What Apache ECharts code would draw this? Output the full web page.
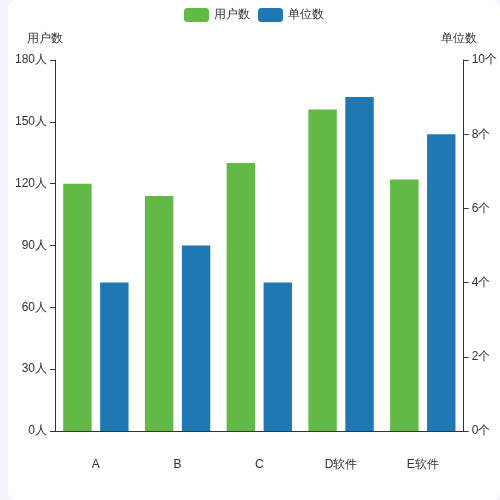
<!DOCTYPE html><html><head><meta charset="utf-8"><script src="https://cdn.jsdelivr.net/npm/echarts@6/dist/echarts.min.js"></script>
<style>html,body{margin:0;padding:0;background:#f3f4f9;}#c{position:absolute;left:8px;top:0;width:492px;height:500px;background:#fff;border-radius:8px;}</style></head><body><div id="c"></div>
<script>
var categories=['A','B','C','D软件','E软件'];
var users=[120,114,130,156,122];
var units=[4,5,4,9,8];
var chart=echarts.init(document.getElementById('c'));
var lbl={color:'#333',fontSize:12};
chart.setOption({
 legend:{top:3,itemWidth:25,itemHeight:14,textStyle:{color:'#333'},data:['用户数','单位数']},
 grid:{left:47,right:32,top:60,bottom:69},
 xAxis:{type:'category',data:categories,axisLine:{lineStyle:{color:'#333'}},axisTick:{lineStyle:{color:'#333'}},axisLabel:{color:'#333',margin:28}},
 yAxis:[{type:'value',name:'用户数',min:0,max:180,interval:30,nameTextStyle:{color:'#333',padding:[0,20,0,0]},axisLine:{show:true,lineStyle:{color:'#333'}},axisTick:{show:true},splitLine:{show:false},axisLabel:{color:'#333',formatter:'{value}人'}},
 {type:'value',name:'单位数',min:0,max:10,interval:2,nameTextStyle:{color:'#333',padding:[0,0,0,-10]},axisLine:{show:true,lineStyle:{color:'#333'}},axisTick:{show:true},splitLine:{show:false},axisLabel:{color:'#333',formatter:'{value}个'}}],
 series:[{name:'用户数',type:'bar',data:users,itemStyle:{color:'#62b946'},barGap:'30%',barCategoryGap:'20%'},
 {name:'单位数',type:'bar',yAxisIndex:1,data:units,itemStyle:{color:'#1f78b4'}}]
});
</script></body></html>
